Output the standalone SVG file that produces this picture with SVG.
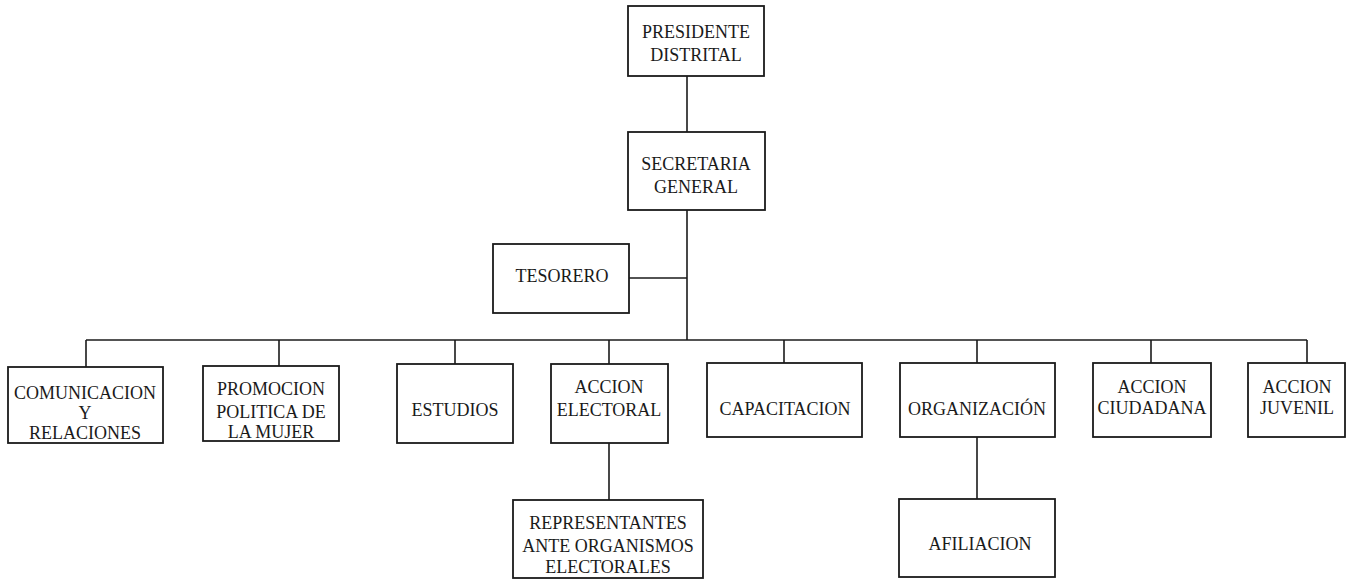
<svg xmlns="http://www.w3.org/2000/svg" width="1352" height="579" viewBox="0 0 1352 579">
<style>
  .box { fill: #ffffff; stroke: #1a1a1a; stroke-width: 1.8; }
  .lbl { font-family: "Liberation Serif", "Times New Roman", serif; font-size: 18px; fill: #1a1a1a; text-anchor: middle; }
  .conn line { stroke: #1a1a1a; stroke-width: 1.6; }
</style>
<rect width="1352" height="579" fill="#ffffff"/>
<g id="connectors" class="conn">
  <line x1="687" y1="76" x2="687" y2="132"/>
  <line x1="687" y1="210" x2="687" y2="340"/>
  <line x1="629" y1="278" x2="687" y2="278"/>
  <line x1="86" y1="340" x2="1307" y2="340"/>
  <line x1="86" y1="340" x2="86" y2="367"/>
  <line x1="279" y1="340" x2="279" y2="366"/>
  <line x1="455" y1="340" x2="455" y2="364"/>
  <line x1="609" y1="340" x2="609" y2="364"/>
  <line x1="784" y1="340" x2="784" y2="363"/>
  <line x1="977" y1="340" x2="977" y2="363"/>
  <line x1="1151" y1="340" x2="1151" y2="363"/>
  <line x1="1307" y1="340" x2="1307" y2="363"/>
  <line x1="609" y1="443" x2="609" y2="500"/>
  <line x1="977" y1="437" x2="977" y2="499"/>
</g>
<g id="presidente">
  <rect class="box" x="628" y="6" width="136" height="70"/>
  <text class="lbl" x="696" y="38">PRESIDENTE</text>
  <text class="lbl" x="696" y="61">DISTRITAL</text>
</g>
<g id="secretaria">
  <rect class="box" x="628" y="132" width="137" height="78"/>
  <text class="lbl" x="696" y="170">SECRETARIA</text>
  <text class="lbl" x="696" y="193">GENERAL</text>
</g>
<g id="tesorero">
  <rect class="box" x="493" y="244" width="136" height="69"/>
  <text class="lbl" x="562" y="282">TESORERO</text>
</g>
<g id="comunicacion">
  <rect class="box" x="8" y="367" width="155" height="76"/>
  <text class="lbl" x="85" y="399">COMUNICACION</text>
  <text class="lbl" x="85" y="419">Y</text>
  <text class="lbl" x="85" y="439">RELACIONES</text>
</g>
<g id="promocion">
  <rect class="box" x="203" y="366" width="136" height="75"/>
  <text class="lbl" x="271" y="395">PROMOCION</text>
  <text class="lbl" x="271" y="418">POLITICA DE</text>
  <text class="lbl" x="271" y="438">LA MUJER</text>
</g>
<g id="estudios">
  <rect class="box" x="397" y="364" width="116" height="79"/>
  <text class="lbl" x="455" y="416">ESTUDIOS</text>
</g>
<g id="accion-electoral">
  <rect class="box" x="551" y="364" width="117" height="79"/>
  <text class="lbl" x="609" y="393">ACCION</text>
  <text class="lbl" x="609" y="416">ELECTORAL</text>
</g>
<g id="capacitacion">
  <rect class="box" x="707" y="363" width="155" height="74"/>
  <text class="lbl" x="785" y="415">CAPACITACION</text>
</g>
<g id="organizacion">
  <rect class="box" x="900" y="363" width="155" height="74"/>
  <text class="lbl" x="977" y="415">ORGANIZACIÓN</text>
</g>
<g id="accion-ciudadana">
  <rect class="box" x="1093" y="363" width="118" height="74"/>
  <text class="lbl" x="1152" y="393">ACCION</text>
  <text class="lbl" x="1152" y="414">CIUDADANA</text>
</g>
<g id="accion-juvenil">
  <rect class="box" x="1248" y="363" width="97" height="74"/>
  <text class="lbl" x="1297" y="393">ACCION</text>
  <text class="lbl" x="1297" y="414">JUVENIL</text>
</g>
<g id="representantes">
  <rect class="box" x="513" y="500" width="190" height="78"/>
  <text class="lbl" x="608" y="529">REPRESENTANTES</text>
  <text class="lbl" x="608" y="552">ANTE ORGANISMOS</text>
  <text class="lbl" x="608" y="573">ELECTORALES</text>
</g>
<g id="afiliacion">
  <rect class="box" x="899" y="499" width="156" height="78"/>
  <text class="lbl" x="980" y="550">AFILIACION</text>
</g>
</svg>
